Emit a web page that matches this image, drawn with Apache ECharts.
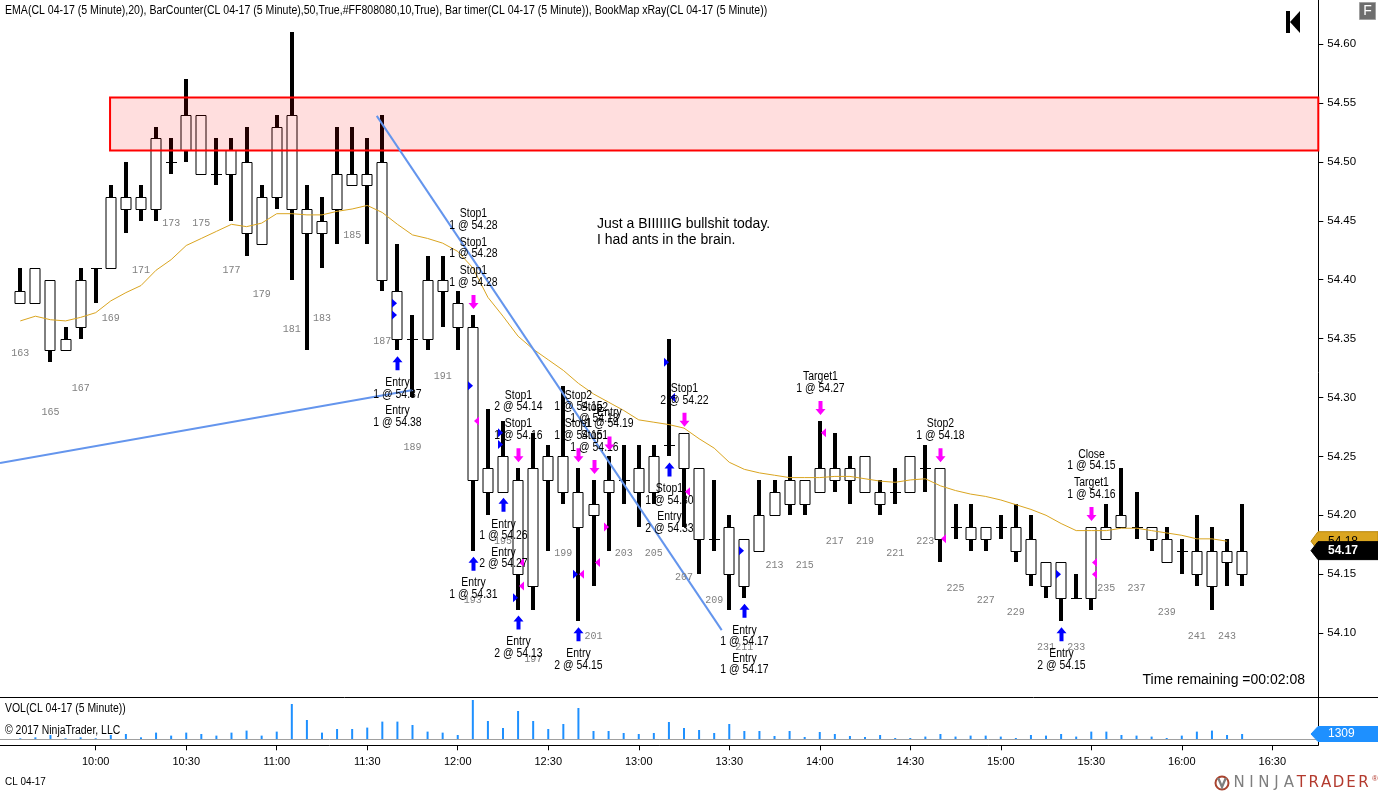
<!DOCTYPE html>
<html><head><meta charset="utf-8">
<script src="https://cdn.jsdelivr.net/npm/echarts@6/dist/echarts.min.js"></script>
<style>html,body{margin:0;padding:0;background:#fff;overflow:hidden}#c{width:1378px;height:792px}</style>
</head><body><div id="c"></div>
<script>
// ---------- DATA ----------
const times = ['09:35','09:40','09:45','09:50','09:55',
 '10:00','10:05','10:10','10:15','10:20','10:25','10:30','10:35','10:40','10:45','10:50','10:55',
 '11:00','11:05','11:10','11:15','11:20','11:25','11:30','11:35','11:40','11:45','11:50','11:55',
 '12:00','12:05','12:10','12:15','12:20','12:25','12:30','12:35','12:40','12:45','12:50','12:55',
 '13:00','13:05','13:10','13:15','13:20','13:25','13:30','13:35','13:40','13:45','13:50','13:55',
 '14:00','14:05','14:10','14:15','14:20','14:25','14:30','14:35','14:40','14:45','14:50','14:55',
 '15:00','15:05','15:10','15:15','15:20','15:25','15:30','15:35','15:40','15:45','15:50','15:55',
 '16:00','16:05','16:10','16:15','16:20'];
const opens  = [54.39,54.38,54.40,54.34,54.36,54.41,54.41,54.47,54.47,54.46,54.50,54.51,54.54,54.49,54.49,54.50,54.43,54.47,54.54,54.46,54.44,54.46,54.49,54.48,54.50,54.39,54.35,54.35,54.40,54.38,54.36,54.24,54.22,54.23,54.14,54.23,54.25,54.22,54.20,54.22,54.23,54.22,54.22,54.26,54.27,54.24,54.18,54.19,54.14,54.17,54.20,54.23,54.21,54.22,54.24,54.23,54.25,54.22,54.22,54.22,54.24,54.24,54.19,54.19,54.18,54.19,54.19,54.18,54.14,54.16,54.13,54.13,54.18,54.19,54.19,54.19,54.18,54.17,54.17,54.14,54.17,54.15];
const highs  = [54.41,54.41,54.40,54.36,54.41,54.41,54.48,54.50,54.48,54.53,54.52,54.57,54.54,54.52,54.52,54.53,54.48,54.54,54.61,54.48,54.47,54.53,54.53,54.52,54.54,54.43,54.37,54.42,54.42,54.39,54.37,54.29,54.28,54.24,54.27,54.26,54.31,54.24,54.23,54.25,54.26,54.26,54.26,54.35,54.27,54.24,54.23,54.20,54.18,54.23,54.23,54.25,54.23,54.28,54.27,54.25,54.25,54.23,54.24,54.25,54.26,54.24,54.21,54.21,54.19,54.20,54.21,54.20,54.16,54.16,54.15,54.19,54.21,54.24,54.22,54.19,54.19,54.18,54.20,54.19,54.18,54.21];
const lows   = [54.38,54.38,54.33,54.34,54.35,54.38,54.41,54.44,54.45,54.45,54.49,54.50,54.49,54.48,54.45,54.42,54.43,54.46,54.40,54.34,54.41,54.43,54.48,54.43,54.39,54.34,54.30,54.34,54.36,54.34,54.17,54.20,54.22,54.12,54.12,54.17,54.21,54.11,54.14,54.17,54.21,54.19,54.21,54.25,54.19,54.15,54.17,54.12,54.13,54.17,54.20,54.20,54.20,54.22,54.22,54.21,54.22,54.20,54.21,54.22,54.22,54.16,54.18,54.17,54.17,54.18,54.16,54.14,54.13,54.11,54.13,54.12,54.18,54.19,54.18,54.17,54.16,54.15,54.14,54.12,54.14,54.14];
const closes = [54.38,54.41,54.34,54.35,54.40,54.41,54.47,54.46,54.46,54.52,54.50,54.54,54.49,54.49,54.51,54.44,54.47,54.53,54.46,54.44,54.45,54.49,54.48,54.49,54.40,54.35,54.35,54.40,54.39,54.36,54.23,54.22,54.25,54.15,54.24,54.25,54.22,54.19,54.21,54.23,54.23,54.24,54.25,54.26,54.24,54.18,54.18,54.15,54.18,54.20,54.22,54.21,54.23,54.24,54.23,54.24,54.22,54.21,54.22,54.25,54.24,54.18,54.19,54.18,54.19,54.19,54.17,54.15,54.16,54.13,54.13,54.19,54.19,54.20,54.19,54.18,54.16,54.17,54.15,54.17,54.16,54.17];
const ema20  = [54.365,54.369,54.366,54.365,54.368,54.372,54.382,54.389,54.395,54.408,54.417,54.429,54.435,54.441,54.447,54.445,54.448,54.456,54.456,54.455,54.455,54.458,54.460,54.463,54.457,54.447,54.438,54.435,54.431,54.424,54.410,54.385,54.369,54.352,54.341,54.332,54.323,54.312,54.303,54.296,54.289,54.281,54.279,54.277,54.274,54.265,54.257,54.245,54.239,54.236,54.234,54.232,54.232,54.232,54.233,54.233,54.231,54.229,54.228,54.230,54.231,54.225,54.221,54.218,54.216,54.213,54.209,54.205,54.200,54.193,54.187,54.187,54.187,54.189,54.189,54.187,54.185,54.183,54.180,54.180,54.178,null];
const volumes = [250,490,1060,250,490,250,1060,1310,490,1650,910,1650,1310,910,1650,2150,910,1900,8720,4770,1650,2540,2540,2890,4370,4370,3530,1900,1650,1060,9710,4520,2790,6990,4520,2540,3780,7730,2050,2050,1560,1310,1560,4270,2790,2300,1560,3780,2050,2050,820,2050,570,1800,1310,820,570,1060,320,320,670,1310,670,910,910,670,320,1060,910,1310,670,1900,1900,1060,910,670,320,910,1900,2150,1060,1309];
const timeTickLabels = ['10:00','10:30','11:00','11:30','12:00','12:30','13:00','13:30','14:00','14:30','15:00','15:30','16:00','16:30'];
const firstBarNumber = 163;
const emaLastValue = 54.178;
// supply zone (drawn rectangle): starting bar position, top and bottom price
const zoneBox = [5.95, 54.555, 54.51];
// drawn trend lines: [barPos, price] endpoints
const trendLine1 = [[23.63, 54.539], [46.5, 54.1025]];
const trendLine2 = [[-1.346, 54.2443], [26.03, 54.3063]];
// executions: bar index, text blocks (top to bottom)
const sellOrders = [
  [30, ['Stop1','1 @ 54.28'], ['Stop1','1 @ 54.28'], ['Stop1','1 @ 54.28']],
  [33, ['Stop1','2 @ 54.14'], ['Stop1','1 @ 54.16']],
  [37, ['Stop2','1 @ 54.15'], ['Stop1','1 @ 54.15']],
  [38, ['Stop2','1 @ 54.18'], ['Stop1','1 @ 54.16']],
  [39, ['Entry','1 @ 54.19']],
  [44, ['Stop1','2 @ 54.22']],
  [53, ['Target1','1 @ 54.27']],
  [61, ['Stop2','1 @ 54.18']],
  [71, ['Close','1 @ 54.15'], ['Target1','1 @ 54.16']]
];
const buyOrders = [
  [25, ['Entry','1 @ 54.37'], ['Entry','1 @ 54.38']],
  [30, ['Entry','1 @ 54.31']],
  [32, ['Entry','1 @ 54.26'], ['Entry','2 @ 54.27']],
  [33, ['Entry','2 @ 54.13']],
  [37, ['Entry','2 @ 54.15']],
  [43, ['Stop1','1 @ 54.30'], ['Entry','2 @ 54.33']],
  [48, ['Entry','1 @ 54.17'], ['Entry','1 @ 54.17']],
  [69, ['Entry','2 @ 54.15']]
];
// fill markers: bar, price, kind(in/out), colour
const fills = [
  [25,54.38,'in','#0000FF'],[25,54.37,'in','#0000FF'],
  [30,54.31,'in','#0000FF'],[30,54.28,'out','#FF00FF'],
  [32,54.27,'in','#0000FF'],[32,54.26,'in','#0000FF'],
  [33,54.16,'out','#FF00FF'],[33,54.14,'out','#FF00FF'],[33,54.13,'in','#0000FF'],
  [37,54.15,'in','#0000FF'],[37,54.15,'out','#FF00FF'],
  [38,54.16,'out','#FF00FF'],
  [39,54.19,'in','#FF00FF'],
  [43,54.33,'in','#0000FF'],[43,54.30,'out','#0000FF'],
  [44,54.22,'out','#FF00FF'],
  [48,54.17,'in','#0000FF'],
  [53,54.27,'out','#FF00FF'],
  [61,54.18,'out','#FF00FF'],
  [69,54.15,'in','#0000FF'],
  [71,54.16,'out','#FF00FF'],[71,54.15,'out','#FF00FF']
];
const noteAnchor = [38.23, 54.447];
const noteLines = ['Just a BIIIIIIG bullshit today.', 'I had ants in the brain.'];
const headerText = 'EMA(CL 04-17 (5 Minute),20), BarCounter(CL 04-17 (5 Minute),50,True,#FF808080,10,True), Bar timer(CL 04-17 (5 Minute)), BookMap xRay(CL 04-17 (5 Minute))';

// ---------- CHART ----------
const FONT = '"Liberation Sans", Arial, sans-serif';
const NARROW = 0.87;
const xMin = -1.346, xMax = 86.05;
const yMin = 54.05, yMax = 54.6374;
const toMin = s => { const p = s.split(':'); return +p[0]*60 + +p[1]; };
const t0 = toMin(times[0]);
const tickPos = timeTickLabels.map(l => (toMin(l) - t0) / 5);
const posLabel = {}; tickPos.forEach((p,k)=>posLabel[p]=timeTickLabels[k]);

const chart = echarts.init(document.getElementById('c'), null, {renderer:'canvas'});

function renderCandle(params, api) {
  const i = api.value(0), o = api.value(1), c = api.value(2), l = api.value(3), h = api.value(4);
  const pH = api.coord([i,h]), pL = api.coord([i,l]), pO = api.coord([i,o]), pC = api.coord([i,c]);
  const x = Math.round(pH[0]) + 0.5;
  const top = Math.round(Math.min(pO[1],pC[1])) + 0.5, bot = Math.round(Math.max(pO[1],pC[1])) + 0.5;
  const ch = [{type:'rect', shape:{x:x-2.5, y:Math.round(pH[1]), width:4, height:Math.round(pL[1])-Math.round(pH[1])}, style:{fill:'#000'}}];
  if (bot - top < 1) ch.push({type:'line', shape:{x1:x-5.5,y1:top,x2:x+5.5,y2:top}, style:{stroke:'#000',lineWidth:1}});
  else ch.push({type:'rect', shape:{x:x-5.5,y:top,width:10,height:bot-top}, style:{fill:'#fff',stroke:'#000',lineWidth:1}});
  return {type:'group', children:ch};
}

function renderZone(params, api) {
  const a = api.coord([api.value(0), api.value(1)]);
  const b = api.coord([xMax, api.value(2)]);
  return {type:'rect', shape:{x:a[0], y:Math.round(a[1])+0.5, width:b[0]-a[0], height:Math.round(b[1])-Math.round(a[1])},
          style:{fill:'rgba(255,0,0,0.13)', stroke:'#FF0000', lineWidth:2}};
}

function renderCounter(params, api) {
  const p = api.coord([api.value(0), api.value(1)]);
  return {type:'text', x:p[0], y:p[1]+50, style:{text:String(api.value(2)), fill:'#808080', font:'10px "Liberation Mono", "DejaVu Sans Mono", monospace', align:'center', verticalAlign:'middle'}};
}

const orderList = [];
sellOrders.forEach(o => orderList.push({bar:o[0], side:'sell', blocks:o.slice(1)}));
buyOrders.forEach(o => orderList.push({bar:o[0], side:'buy', blocks:o.slice(1)}));

function txt(x, y, s) {
  return {type:'text', x:x, y:y, scaleX:NARROW, style:{text:s, fill:'#000', font:'12px '+FONT, align:'center', verticalAlign:'middle'}};
}
function renderOrder(params, api) {
  const ord = orderList[params.dataIndex];
  const p = api.coord([api.value(0), api.value(1)]);
  const x = Math.round(p[0]) + 0.5;
  const ch = [];
  if (ord.side === 'sell') {
    const tip = p[1] - 6, top = tip - 14;
    ch.push({type:'polygon', shape:{points:[[x,tip],[x-5,tip-6],[x-2,tip-6],[x-2,top],[x+2,top],[x+2,tip-6],[x+5,tip-6]]}, style:{fill:'#FF00FF'}});
    const n = ord.blocks.length;
    ord.blocks.forEach((b,k) => {
      const y2 = top - 12.5 - (n-1-k)*28.5;
      ch.push(txt(x, y2-11.5, b[0])); ch.push(txt(x, y2, b[1]));
    });
  } else {
    const tip = p[1] + 6, bot = tip + 14;
    ch.push({type:'polygon', shape:{points:[[x,tip],[x-5,tip+6],[x-2,tip+6],[x-2,bot],[x+2,bot],[x+2,tip+6],[x+5,tip+6]]}, style:{fill:'#0000FF'}});
    ord.blocks.forEach((b,k) => {
      const y1 = bot + 12.5 + k*28;
      ch.push(txt(x, y1, b[0])); ch.push(txt(x, y1+11.5, b[1]));
    });
  }
  return {type:'group', children:ch};
}

function renderFill(params, api) {
  const f = fills[params.dataIndex];
  const p = api.coord([api.value(0), api.value(1)]);
  const x = Math.round(p[0]), y = p[1];
  const pts = f[2] === 'in' ? [[x-5,y-4.5],[x-5,y+4.5],[x,y]] : [[x+6,y-4.5],[x+6,y+4.5],[x+1,y]];
  return {type:'polygon', shape:{points:pts}, style:{fill:f[3]}};
}

function renderNote(params, api) {
  const p = api.coord([api.value(0), api.value(1)]);
  return {type:'group', children: noteLines.map((s,k) => ({type:'text', x:p[0], y:p[1]+k*16, style:{text:s, fill:'#000', font:'14px '+FONT, align:'left', verticalAlign:'middle'}}))};
}

const option = {
  animation: false,
  backgroundColor: '#fff',
  grid: [
    {left:0, right:59.7, top:0, height:692},
    {left:0, right:59.7, top:697, height:42.3}
  ],
  xAxis: [
    {type:'value', gridIndex:0, min:xMin, max:xMax, show:false, axisLine:{onZero:false}},
    {type:'value', gridIndex:1, min:xMin, max:xMax, offset:6,
     axisLine:{show:true, onZero:false, lineStyle:{color:'#000', width:1}},
     axisTick:{show:true, length:5, customValues:tickPos, lineStyle:{color:'#000'}},
     axisLabel:{customValues:tickPos, formatter:v => posLabel[v] || '', color:'#000', fontSize:11, fontFamily:'"Liberation Sans", Arial, sans-serif', margin:11},
     splitLine:{show:false}}
  ],
  yAxis: [
    {type:'value', gridIndex:0, position:'right', min:yMin, max:yMax, interval:0.05,
     axisLine:{show:false, onZero:false}, axisTick:{show:true, length:5, lineStyle:{color:'#000'}},
     axisLabel:{formatter:v => v.toFixed(2), color:'#000', fontSize:11.5, fontFamily:'"Liberation Sans", Arial, sans-serif', margin:9, showMaxLabel:false, showMinLabel:false},
     splitLine:{show:false}},
    {type:'value', gridIndex:1, position:'right', min:0, max:10450, show:false, axisLine:{onZero:false}}
  ],
  series: [
    {name:'CL 04-17', type:'custom', xAxisIndex:0, yAxisIndex:0, z:2, renderItem:renderCandle,
     encode:{x:0, y:[1,2,3,4]},
     data: times.map((t,i) => [i, opens[i], closes[i], lows[i], highs[i]])},
    {name:'zone', type:'custom', xAxisIndex:0, yAxisIndex:0, z:3, renderItem:renderZone, silent:true,
     data:[zoneBox]},
    {name:'EMA(20)', type:'line', xAxisIndex:0, yAxisIndex:0, z:4, showSymbol:false, connectNulls:false,
     lineStyle:{color:'#DAA520', width:1}, itemStyle:{color:'#DAA520'},
     data: ema20.map((v,i) => [i, v])},
    {name:'trend1', type:'line', xAxisIndex:0, yAxisIndex:0, z:4, showSymbol:false, lineStyle:{color:'#6495ED', width:2}, data:trendLine1},
    {name:'trend2', type:'line', xAxisIndex:0, yAxisIndex:0, z:4, showSymbol:false, lineStyle:{color:'#6495ED', width:2}, data:trendLine2},
    {name:'BarCounter', type:'custom', xAxisIndex:0, yAxisIndex:0, z:5, renderItem:renderCounter,
     data: times.map((t,i) => [i, lows[i], firstBarNumber+i]).filter(d => d[2] % 2 === 1)},
    {name:'fills', type:'custom', xAxisIndex:0, yAxisIndex:0, z:6, renderItem:renderFill,
     data: fills.map(f => [f[0], f[1]])},
    {name:'orders', type:'custom', xAxisIndex:0, yAxisIndex:0, z:7, renderItem:renderOrder,
     data: orderList.map(o => [o.bar, o.side === 'sell' ? highs[o.bar] : lows[o.bar]])},
    {name:'note', type:'custom', xAxisIndex:0, yAxisIndex:0, z:7, renderItem:renderNote, data:[noteAnchor]},
    {name:'VOL', type:'bar', xAxisIndex:1, yAxisIndex:1, barWidth:2, itemStyle:{color:'#1E90FF'},
     data: volumes.map((v,i) => [i, v]),
     markLine:{silent:true, symbol:'none', label:{show:false}, lineStyle:{color:'#A0A0A0', width:1, type:'solid'}, data:[{yAxis:0}]}}
  ]
};
chart.setOption(option);

// chrome + axis tags
const axisX = 1318.5;
const yClose = chart.convertToPixel({yAxisIndex:0}, closes[closes.length-1]);
const yEma = chart.convertToPixel({yAxisIndex:0}, emaLastValue);
const yVol = chart.convertToPixel({yAxisIndex:1}, volumes[volumes.length-1]);
function tag(y, h, fill, stroke, text, color, bold) {
  return [{type:'polygon', z:100, shape:{points:[[1311,y],[1318,y-h/2],[1378,y-h/2],[1378,y+h/2],[1318,y+h/2]]}, style:{fill:fill, stroke:stroke, lineWidth:1}},
          {type:'text', z:101, x:1328, y:y, style:{text:text, fill:color, font:(bold?'bold ':'')+'12px '+FONT, verticalAlign:'middle'}}];
}
const logoLetters = 'NINJATRADER'.split('');
const g = [
  {type:'text', x:5, y:11, scaleX:0.88, style:{text:headerText, fill:'#000', font:'12px '+FONT, verticalAlign:'middle'}},
  {type:'text', x:5, y:709, scaleX:NARROW, style:{text:'VOL(CL 04-17 (5 Minute))', fill:'#000', font:'12px '+FONT, verticalAlign:'middle'}},
  {type:'text', x:5, y:731, scaleX:NARROW, style:{text:'\u00A9 2017 NinjaTrader, LLC', fill:'#000', font:'12px '+FONT, verticalAlign:'middle'}},
  {type:'text', x:5, y:782, scaleX:0.9, style:{text:'CL 04-17', fill:'#000', font:'11px '+FONT, verticalAlign:'middle'}},
  {type:'text', x:1305, y:680, style:{text:'Time remaining =00:02:08', fill:'#000', font:'14px '+FONT, align:'right', verticalAlign:'middle'}},
  {type:'line', shape:{x1:0, y1:697.5, x2:1378, y2:697.5}, style:{stroke:'#000', lineWidth:1}},
  {type:'line', shape:{x1:axisX, y1:0, x2:axisX, y2:745.5}, style:{stroke:'#000', lineWidth:1}},
  {type:'rect', shape:{x:1286, y:11, width:4, height:22}, style:{fill:'#000'}},
  {type:'polygon', shape:{points:[[1290,22],[1300,11],[1300,33]]}, style:{fill:'#000'}},
  {type:'rect', shape:{x:1359.5, y:2.5, width:16, height:17}, style:{fill:'#6E6E6E', stroke:'#A0A0A0', lineWidth:1}},
  {type:'text', x:1367.5, y:11.5, style:{text:'F', fill:'#fff', font:'14px '+FONT, align:'center', verticalAlign:'middle'}},
  {type:'circle', shape:{cx:1222, cy:783, r:6.5}, style:{fill:'none', stroke:'#A9442F', lineWidth:2}},
  {type:'polygon', shape:{points:[[1217,778],[1222,790],[1227,778],[1224.5,778],[1222,784],[1219.5,778]]}, style:{fill:'#7F7F7F'}},
  {type:'text', x:1372, y:779, style:{text:'\u00AE', fill:'#B33A2E', font:'8px '+FONT, verticalAlign:'middle'}}
];
logoLetters.forEach((ch,k) => g.push({type:'text', x:1239 + k*12.45, y:783.5, style:{text:ch, fill: k<5 ? '#7F7F7F' : '#B33A2E', font:'15px "DejaVu Sans", sans-serif', align:'center', verticalAlign:'middle'}}));
tag(yEma, 19, '#DAA520', '#B8860B', emaLastValue.toFixed(2), '#000', false).forEach(e => g.push(e));
tag(yClose, 18, '#000', '#000', closes[closes.length-1].toFixed(2), '#fff', true).forEach(e => g.push(e));
tag(yVol, 15, '#1E90FF', '#1E90FF', String(volumes[volumes.length-1]), '#fff', false).forEach(e => g.push(e));
chart.setOption({graphic: g});
</script></body></html>
